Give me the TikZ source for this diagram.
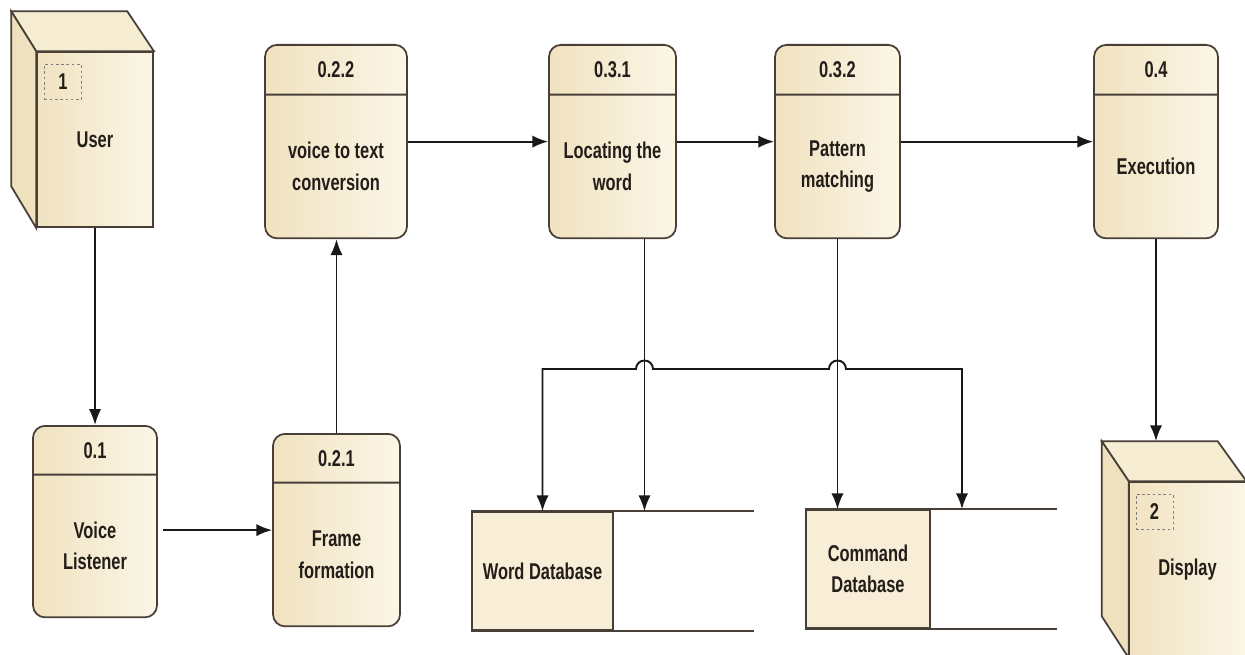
\documentclass[tikz,border=0pt]{standalone}
\usepackage{fontspec}
\setmainfont{Liberation Sans}[FakeStretch=0.72]
\usepackage{tikz}
\usetikzlibrary{arrows.meta}
\usetikzlibrary{shapes.multipart}
\usetikzlibrary{calc}
\definecolor{boxline}{RGB}{72,64,55}
\definecolor{boxdark}{RGB}{241,226,192}
\definecolor{boxlight}{RGB}{251,246,231}
\definecolor{boxtop}{RGB}{246,236,210}
\definecolor{boxside}{RGB}{239,224,190}
\definecolor{storefill}{RGB}{248,237,214}
\definecolor{txt}{RGB}{35,30,25}
\tikzset{proc/.style = {rectangle split, rectangle split parts = 2, draw = boxline, line width = 1pt, rounded corners = 0.24cm, inner sep = 0, left color = boxdark, right color = boxlight, anchor = north, text = txt}}
\tikzset{cube/.style = {draw = boxline, line width = 1pt, left color = boxdark, right color = boxlight, minimum width = 2.32cm, minimum height = 3.5cm, text = txt}}
\tikzset{numbox/.style = {draw = gray, dash pattern = on 1.5pt off 1.5pt, minimum width = 0.74cm, minimum height = 0.7cm, inner sep = 0, anchor = north west, text = txt}}
\tikzset{store/.style = {draw = boxline, line width = 1pt, fill = storefill, minimum height = 2.36cm, inner sep = 0, align = center, text = txt}}
\tikzset{flow/.style = {->, line width = 1.1pt, black!90}}

\begin{document}
\begin{tikzpicture}[x=0.02cm, y=-0.02cm, >={Latex[length=9pt, width=7pt]}, font=\fontsize{13}{18}\selectfont\bfseries]
    \useasboundingbox (0, 0) rectangle (1245, 655);

    % terminators
    \node [cube] (user) at (95, 139.5) {User};
    \draw [boxline, line width=1pt, fill=boxtop] (user.north west) -- ++(-25, -40) -- ++(116, 0) -- (user.north east) -- cycle;
    \draw [boxline, line width=1pt, fill=boxside] (user.north west) -- ++(-25, -40) -- ++(0, 175) -- (user.south west) -- cycle;
    \node [numbox] (usernum) at ([shift={(8, 13)}]user.north west) {1};

    \node [cube] (disp) at (1187.5, 569.5) {Display};
    \draw [boxline, line width=1pt, fill=boxtop] (disp.north west) -- ++(-27, -40) -- ++(116, 0) -- (disp.north east) -- cycle;
    \draw [boxline, line width=1pt, fill=boxside] (disp.north west) -- ++(-27, -40) -- ++(0, 175) -- (disp.south west) -- cycle;
    \node [numbox] (dispnum) at ([shift={(7, 13)}]disp.north west) {2};
    \coordinate (disptop) at ([shift={(-27, -40)}]disp.north);

    % processes
    \node [proc] (p01) at (95, 425) {\parbox[c][0.94cm][c]{2.48cm}{\centering 0.1}\nodepart{two}\parbox[c][2.82cm][c]{2.48cm}{\centering Voice\\Listener}};
    \node [proc] (p021) at (336.5, 433) {\parbox[c][0.94cm][c]{2.54cm}{\centering 0.2.1}\nodepart{two}\parbox[c][2.84cm][c]{2.54cm}{\centering Frame\\formation}};
    \node [proc] (p022) at (336, 44) {\parbox[c][0.96cm][c]{2.84cm}{\centering 0.2.2}\nodepart{two}\parbox[c][2.84cm][c]{2.84cm}{\centering voice to text\\conversion}};
    \node [proc] (p031) at (612.5, 44) {\parbox[c][0.96cm][c]{2.54cm}{\centering 0.3.1}\nodepart{two}\parbox[c][2.84cm][c]{2.54cm}{\centering Locating the\\word}};
    \node [proc] (p032) at (837.5, 44) {\parbox[c][0.96cm][c]{2.5cm}{\centering 0.3.2}\nodepart{two}\parbox[c][2.84cm][c]{2.5cm}{\centering Pattern\\matching}};
    \node [proc] (p04) at (1156, 44) {\parbox[c][0.96cm][c]{2.48cm}{\centering 0.4}\nodepart{two}\parbox[c][2.84cm][c]{2.48cm}{\centering Execution}};

    % data stores
    \node [store, minimum width=2.82cm] (wd) at (542.5, 571) {Word Database};
    \draw [boxline, line width=1pt] (wd.north west) -- ++(283, 0);
    \draw [boxline, line width=1pt] (wd.south west) -- ++(283, 0);
    \node [store, minimum width=2.48cm] (cd) at (868, 569) {Command\\Database};
    \draw [boxline, line width=1pt] (cd.north west) -- ++(252, 0);
    \draw [boxline, line width=1pt] (cd.south west) -- ++(252, 0);
    \coordinate (cdin) at ([xshift=1.88cm]cd.north);

    % flows
    \draw [flow] (user.south) -- (p01.north);
    \draw [flow, shorten <=3pt] (p01.east |- p021.west) -- (p021.west);
    \draw [flow] (p021.north) -- (p021.north |- p022.south);
    \draw [flow] (p022.east) -- (p031.west);
    \draw [flow] (p031.east) -- (p032.west);
    \draw [flow] (p032.east) -- (p04.west);
    \draw [flow] ([xshift=0.64cm]p031.south) -- ([xshift=0.64cm]p031.south |- wd.north);
    \draw [flow] (p032.south) -- (p032.south |- cd.north);
    \draw [flow] (p04.south) -- (p04.south |- disptop);
    \draw [flow, <->] (wd.north) -- (wd.north |- 0, 369) -- (636, 369) arc (180:360:8.5) -- (829, 369) arc (180:360:8.5) -- (cdin |- 0, 369) -- (cdin);
\end{tikzpicture}
\end{document}
